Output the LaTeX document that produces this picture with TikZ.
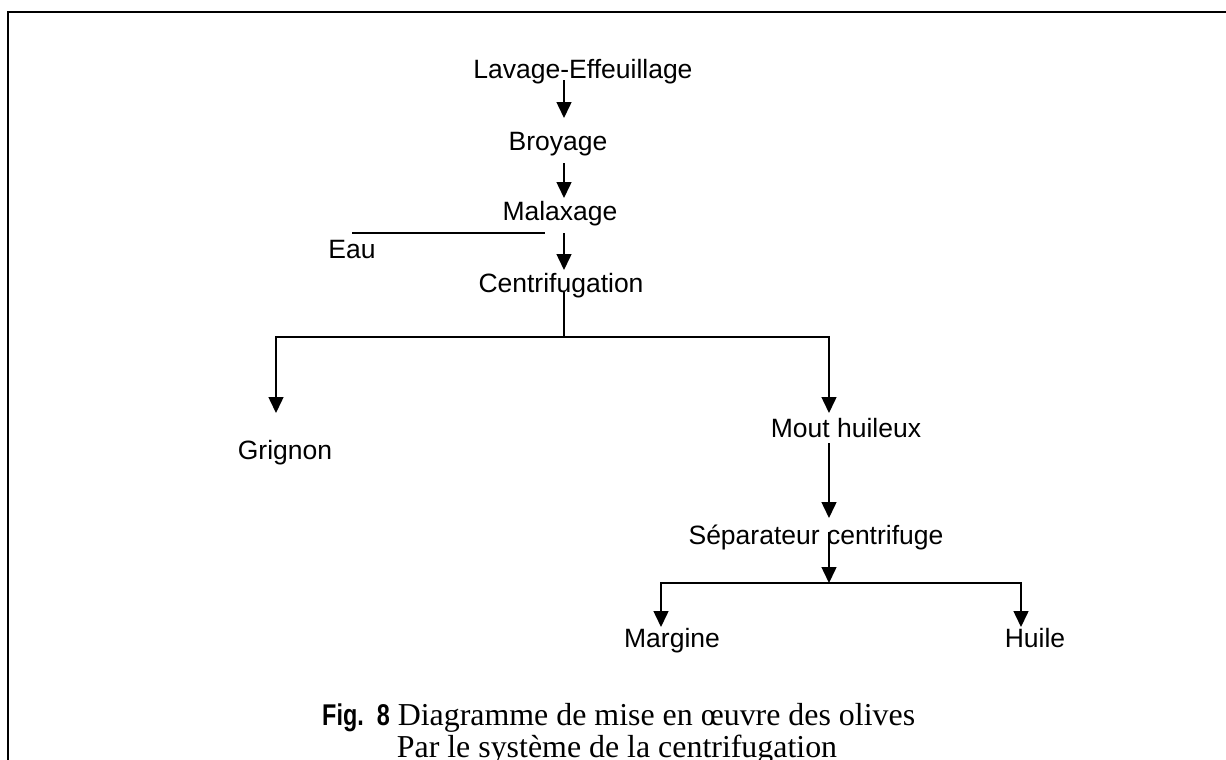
\documentclass[tikz,border=0pt]{standalone}
\usepackage{fontspec}
\setmainfont{Liberation Serif}
\newfontfamily\labfont{Liberation Sans}
\newfontfamily\figfont[FakeStretch=0.78]{Liberation Sans}
\usetikzlibrary{arrows.meta}
\tikzset{
  lab/.style={anchor=base, inner sep=0pt, font=\labfont\fontsize{26.5}{30}\selectfont},
  conn/.style={line width=1.5pt},
  arr/.style={conn, -{Triangle[width=15pt,length=16pt]}},
  frameline/.style={line width=2pt},
  captxt/.style={inner sep=0pt, font=\fontsize{31.9}{34}\selectfont},
}
\begin{document}
\begin{tikzpicture}[x=1pt,y=-1pt]
\useasboundingbox (0,0) rectangle (1226,760);
\clip (0,0) rectangle (1226,760);
\draw[frameline] (7.5,770) -- (7.5,12) -- (1230,12);

\coordinate (sp) at (564,0);
\coordinate (sp2) at (829,0);
\coordinate (jn) at (564,337);
\coordinate (jn2) at (829,583);

\node[lab] (lav) at (583,78) {Lavage-Effeuillage};
\node[lab] (bro) at (558,150) {Broyage};
\node[lab] (mal) at (560,220) {Malaxage};
\node[lab] (eau) at (352,258) {Eau};
\node[lab] (cen) at (561,292) {Centrifugation};
\node[lab] (gri) at (285,459) {Grignon};
\node[lab] (mou) at (846,437) {Mout huileux};
\node[lab] (sep) at (816,544) {Séparateur centrifuge};
\node[lab] (mar) at (672,647) {Margine};
\node[lab] (hui) at (1035,647) {Huile};

\draw[arr] ([yshift=-2pt]lav.base -| sp) -- ([yshift=32pt]bro.base -| sp);
\draw[arr] ([yshift=-13pt]bro.base -| sp) -- ([yshift=22pt]mal.base -| sp);
\draw[arr] ([yshift=-13pt]mal.base -| sp) -- ([yshift=22pt]cen.base -| sp);
\draw[conn] ([yshift=25pt]eau.base) -- ++(193,0);

\draw[conn] (cen.base -| sp) -- (jn);
\draw[arr] (jn) -| ([yshift=46pt,xshift=-9pt]gri.base);
\draw[arr] (jn) -| ([yshift=24pt]mou.base -| sp2);

\draw[arr] ([yshift=-6pt]mou.base -| sp2) -- ([yshift=26pt]sep.base -| sp2);
\draw[arr] ([yshift=12pt]sep.base -| sp2) -- (jn2);
\draw[arr] (jn2) -| ([yshift=20pt,xshift=-11pt]mar.base);
\draw[arr] (jn2) -| ([yshift=20pt,xshift=-14pt]hui.base);

\node[captxt, anchor=base west] (cap1) at (322,725)
  {{\figfont\bfseries\fontsize{30}{32}\selectfont Fig.\ \ 8} Diagramme de mise en œuvre des olives};
\node[captxt, anchor=base] (cap2) at (617,757) {Par le système de la centrifugation};
\end{tikzpicture}
\end{document}
